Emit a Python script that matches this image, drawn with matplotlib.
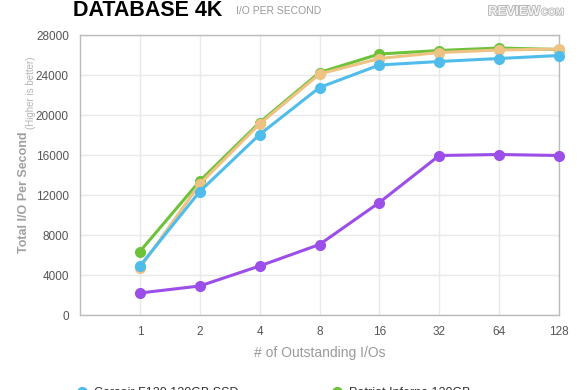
import matplotlib
matplotlib.use('Agg')
import matplotlib.pyplot as plt
import matplotlib.patheffects as pe
from matplotlib.lines import Line2D

plt.rcParams['font.family'] = ['Liberation Sans', 'DejaVu Sans']

# outstanding I/O queue depths (categorical)
queue_depths = ['1', '2', '4', '8', '16', '32', '64', '128']

corsair = [4900, 12350, 18050, 22750, 25000, 25350, 25650, 25950]
patriot = [6350, 13400, 19250, 24250, 26100, 26450, 26700, 26550]
orange_drive = [4700, 13100, 19100, 24100, 25650, 26250, 26500, 26600]
purple_drive = [2200, 2900, 4900, 7050, 11250, 15950, 16050, 15950]

yticks = [0, 4000, 8000, 12000, 16000, 20000, 24000, 28000]

blue = '#4fbceb'
green = '#6ec23a'
orange = '#eec283'
purple = '#9c4ee8'

fig = plt.figure(figsize=(5.8, 3.9), dpi=100)
ax = fig.add_axes([80/580, 75/390, 479/580, 280/390])

x = list(range(1, len(queue_depths) + 1))
ax.plot(x, purple_drive, color=purple, lw=2.2, marker='o', ms=7, zorder=3)
ax.plot(x, patriot, color=green, lw=2.2, marker='o', ms=7, zorder=4)
ax.plot(x, orange_drive, color=orange, lw=2.2, marker='o', ms=7, zorder=5)
ax.plot(x, corsair, color=blue, lw=2.2, marker='o', ms=7, zorder=6)

ax.set_xlim(0, len(queue_depths))
ax.set_ylim(0, 28000)
ax.set_xticks(x)
ax.set_xticklabels(queue_depths)
ax.set_yticks(yticks)
ax.set_yticklabels([str(v) for v in yticks])
ax.tick_params(length=0, labelsize=8.5, labelcolor='#555555')
ax.tick_params(axis='y', pad=8)
ax.tick_params(axis='x', pad=8)
ax.grid(True, color='#e9e9e9', lw=1)
ax.set_axisbelow(True)
for s in ax.spines.values():
    s.set_color('#bbbbbb')
    s.set_linewidth(1)
for ln in ax.lines:
    ln.set_clip_on(False)

ax.set_xlabel('# of Outstanding I/Os', fontsize=10, color='#9a9a9a', labelpad=6)

# y label in two parts
fig.text(24/580, 1 - 253/390, 'Total I/O Per Second', rotation=90, fontsize=9,
         fontweight='bold', color='#a0a0a0', ha='center', va='bottom')
fig.text(31/580, 1 - 129/390, '(Higher is better)', rotation=90, fontsize=7,
         color='#b5b5b5', ha='center', va='bottom')

# title
fig.text(73/580, 1 - 16/390, 'DATABASE 4K', fontsize=15.5, fontweight='bold',
         color='black', ha='left', va='baseline')
fig.text(236/580, 1 - 14/390, 'I/O PER SECOND', fontsize=7.5, color='#9a9a9a',
         ha='left', va='baseline')

# logo
logo = fig.text(488/580, 1 - 15/390, 'REVIEW', fontsize=9.5, fontweight='bold',
                color='#f4f4f4', ha='left', va='baseline')
logo.set_path_effects([pe.Stroke(linewidth=1.2, foreground='#b0b0b0'), pe.Normal()])
logo2 = fig.text(541/580, 1 - 15/390, 'COM', fontsize=7, fontweight='bold',
                 color='#f4f4f4', ha='left', va='baseline')
logo2.set_path_effects([pe.Stroke(linewidth=1, foreground='#b0b0b0'), pe.Normal()])

handles = [Line2D([], [], color=blue, marker='o', ls='', ms=7),
           Line2D([], [], color=green, marker='o', ls='', ms=7)]
fig.legend(handles, ['Corsair F120 120GB SSD', 'Patriot Inferno 120GB'],
           ncol=2, loc='center left', bbox_to_anchor=(63/580, 1 - 393/390),
           frameon=False, fontsize=9, handletextpad=0.4, columnspacing=7.25,
           labelcolor='#333333', handlelength=1.2)

fig.savefig('out.png', dpi=100)
